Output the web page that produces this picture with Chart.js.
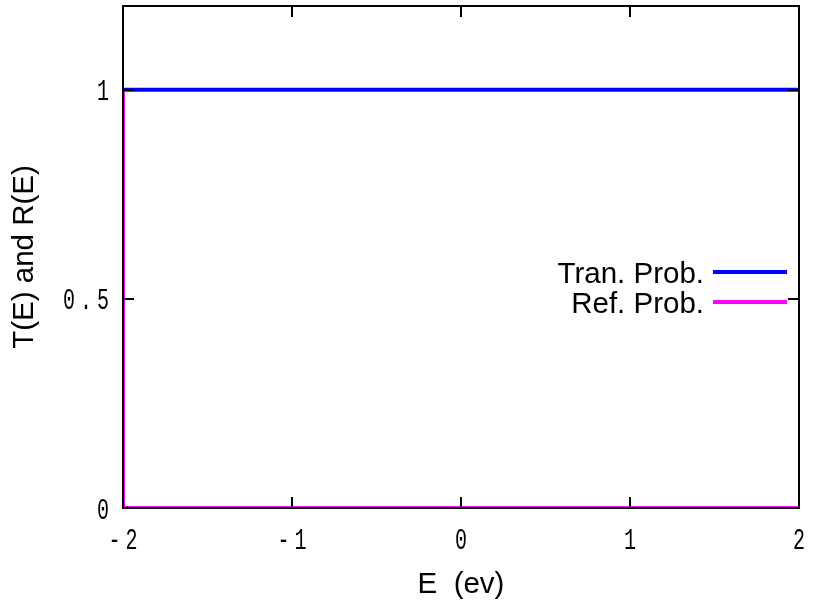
<!DOCTYPE html>
<html>
<head>
<meta charset="utf-8">
<script src="https://cdn.jsdelivr.net/npm/chart.js@4"></script>
<style>
  html, body { margin: 0; padding: 0; background: #fff; }
  #wrap { width: 815px; height: 605px; }
</style>
</head>
<body>
<div id="wrap"><canvas id="chart"></canvas></div>
<script>
// values
const energy = [-2, -2, 2];
const tranProb = [0, 1, 1];
const refProb = [1, 0, 0];
const xTicks = [-2, -1, 0, 1, 2];
const yTicks = [0, 0.5, 1];
const seriesNames = ["Tran. Prob.", "Ref. Prob."];
const seriesColors = ["#0000ff", "#ff00ff"];

// narrow, tall, spaced-out tick digits like the gnuplot bitmap font
function drawTickLabel(ctx, text, x, y, align) {
    const cell = 17;
    const stretch = 1.5;
    const n = text.length;
    let firstCenter;
    if (align === "right") firstCenter = x - 5 - (n - 1) * cell;
    else firstCenter = x - (n - 1) * cell / 2;
    ctx.save();
    ctx.scale(1, stretch);
    ctx.font = "20px 'Liberation Mono'";
    ctx.fillStyle = "#000";
    ctx.textAlign = "center";
    ctx.textBaseline = "alphabetic";
    for (let i = 0; i < n; i++) {
        ctx.fillText(text[i], firstCenter + i * cell, (y + 10.5) / stretch);
    }
    ctx.restore();
}

// gnuplot style frame: border plus inward ticks on every side
const framePlugin = {
    id: "frame",
    afterDatasetsDraw(chart) {
        const { ctx, chartArea: a, scales } = chart;
        ctx.save();
        ctx.strokeStyle = "#000";
        ctx.lineWidth = 2;
        ctx.strokeRect(a.left, a.top, a.right - a.left, a.bottom - a.top);
        ctx.beginPath();
        xTicks.forEach(v => {
            const px = Math.round(scales.x.getPixelForValue(v));
            ctx.moveTo(px, a.bottom); ctx.lineTo(px, a.bottom - 11);
            ctx.moveTo(px, a.top); ctx.lineTo(px, a.top + 11);
        });
        yTicks.forEach(v => {
            const py = Math.round(scales.y.getPixelForValue(v));
            ctx.moveTo(a.left, py); ctx.lineTo(a.left + 11, py);
            ctx.moveTo(a.right, py); ctx.lineTo(a.right - 11, py);
        });
        ctx.stroke();
        ctx.restore();

        xTicks.forEach(v => {
            drawTickLabel(ctx, String(v), scales.x.getPixelForValue(v), a.bottom + 30, "center");
        });
        yTicks.forEach(v => {
            drawTickLabel(ctx, String(v), a.left - 15, scales.y.getPixelForValue(v), "right");
        });

        // key, text left of the sample lines
        ctx.save();
        ctx.font = "29.5px 'Liberation Sans'";
        ctx.textAlign = "right";
        ctx.textBaseline = "middle";
        seriesNames.forEach((name, i) => {
            const y = 272 + i * 30;
            ctx.fillStyle = "#000";
            ctx.fillText(name, 704, y + 3);
            ctx.strokeStyle = seriesColors[i];
            ctx.lineWidth = 4;
            ctx.beginPath();
            ctx.moveTo(713, y);
            ctx.lineTo(787, y);
            ctx.stroke();
        });
        ctx.restore();
    }
};

new Chart(document.getElementById("chart"), {
    type: "scatter",
    data: {
        datasets: [
            {
                label: seriesNames[1],
                data: energy.map((e, i) => ({ x: e, y: refProb[i] })),
                showLine: true,
                borderColor: seriesColors[1],
                borderWidth: 4,
                pointRadius: 0,
                order: 0
            },
            {
                label: seriesNames[0],
                data: energy.map((e, i) => ({ x: e, y: tranProb[i] })),
                showLine: true,
                borderColor: seriesColors[0],
                borderWidth: 4,
                pointRadius: 0,
                order: 1
            }
        ]
    },
    options: {
        responsive: true,
        maintainAspectRatio: false,
        animation: false,
        layout: { padding: { top: 6, right: 16, left: 0, bottom: 0 } },
        plugins: {
            legend: { display: false },
            tooltip: { enabled: false }
        },
        scales: {
            x: {
                type: "linear",
                min: -2,
                max: 2,
                afterBuildTicks: s => { s.ticks = xTicks.map(v => ({ value: v })); },
                afterFit: s => { s.height = 97; },
                grid: { display: false, drawTicks: false },
                border: { display: false },
                ticks: { display: false },
                title: {
                    display: true,
                    text: "E  (ev)",
                    color: "#000",
                    font: { family: "Liberation Sans", size: 29.5 },
                    padding: { top: 0, bottom: 2 }
                }
            },
            y: {
                min: 0,
                max: 1.2,
                afterBuildTicks: s => { s.ticks = yTicks.map(v => ({ value: v })); },
                afterFit: s => { s.width = 123; },
                grid: { display: false, drawTicks: false },
                border: { display: false },
                ticks: { display: false },
                title: {
                    display: true,
                    text: "T(E) and R(E)",
                    color: "#000",
                    font: { family: "Liberation Sans", size: 29.5 },
                    padding: { top: 7, bottom: 0 }
                }
            }
        }
    },
    plugins: [framePlugin]
});
</script>
</body>
</html>
